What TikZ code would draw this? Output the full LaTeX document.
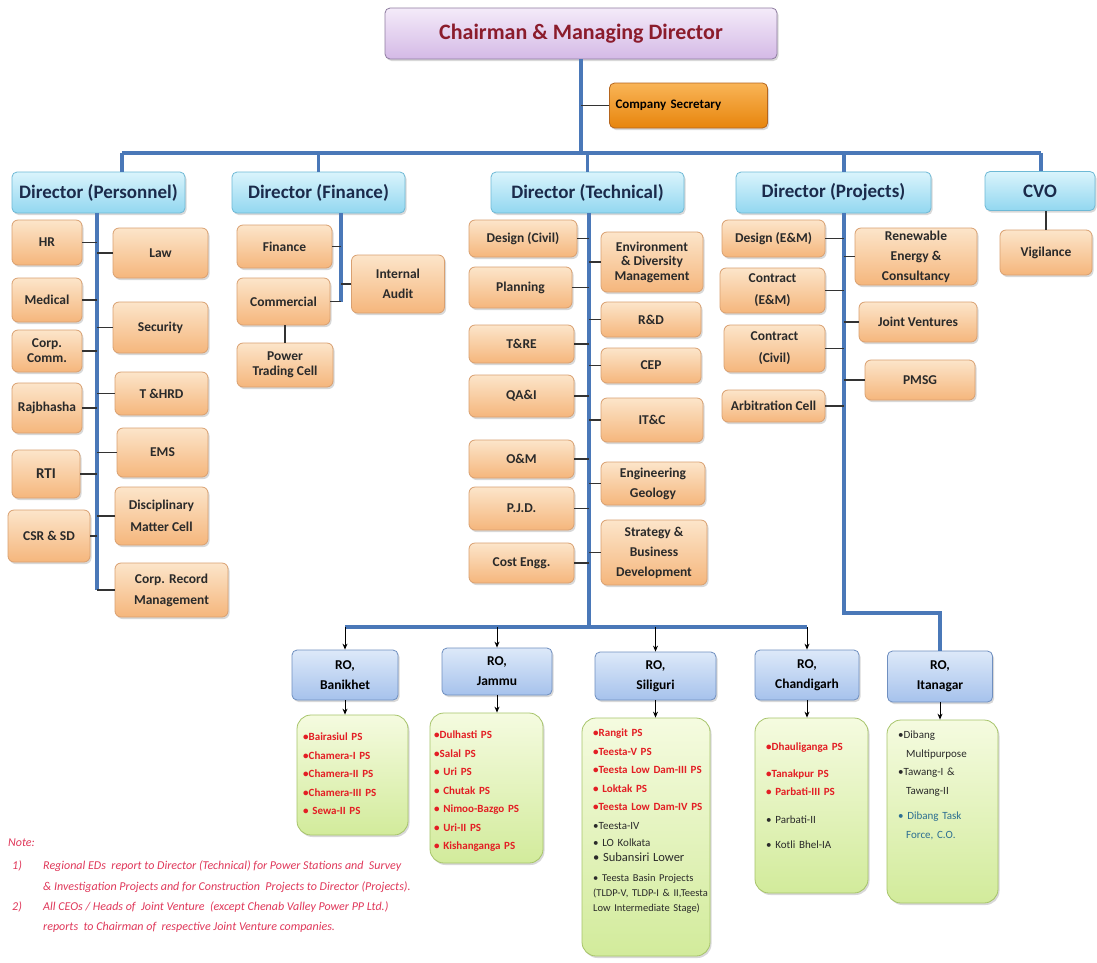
\documentclass[tikz,border=0pt]{standalone}
\usepackage{fontspec}
\setmainfont{Carlito}
\usetikzlibrary{arrows.meta,shadows}
\definecolor{cmdtop}{HTML}{F4EBF9}
\definecolor{cmdbot}{HTML}{D4B9E6}
\definecolor{cmdline}{HTML}{8E7CA0}
\definecolor{cmdtext}{HTML}{8B1C2C}
\definecolor{sectop}{HTML}{F9B457}
\definecolor{secbot}{HTML}{E7850C}
\definecolor{secline}{HTML}{B5651D}
\definecolor{dirtop}{HTML}{DAF4FC}
\definecolor{dirbot}{HTML}{92D7F0}
\definecolor{dirline}{HTML}{6EB9D6}
\definecolor{dirtext}{HTML}{1B2B4B}
\definecolor{unittop}{HTML}{FCE5CA}
\definecolor{unitbot}{HTML}{F5B67C}
\definecolor{unitline}{HTML}{D9A070}
\definecolor{rotop}{HTML}{DDE9F9}
\definecolor{robot}{HTML}{A6C2EC}
\definecolor{roline}{HTML}{6F8FC0}
\definecolor{gtop}{HTML}{F5FBE0}
\definecolor{gbot}{HTML}{D2EB9B}
\definecolor{gline}{HTML}{A7C46A}
\definecolor{busblue}{HTML}{4A78B8}
\definecolor{psred}{HTML}{E31E24}
\definecolor{notered}{HTML}{E0385A}
\definecolor{txtgray}{HTML}{2A2A2A}
\definecolor{dibteal}{HTML}{2C6E91}
\begin{document}
\begin{tikzpicture}[x=1pt,y=-1pt,
        box/.style={draw, line width=0.8pt, rounded corners=5pt, inner sep=2pt, align=center,
            drop shadow={shadow xshift=1.5pt, shadow yshift=-2pt, opacity=0.3}},
        boxsize/.style 2 args={minimum width=#1pt, minimum height=#2pt},
        cmdbox/.style={box, draw=cmdline, top color=cmdtop, bottom color=cmdbot, text=cmdtext,
            font=\bfseries\fontsize{22}{26}\selectfont},
        secbox/.style={box, draw=secline, top color=sectop, bottom color=secbot, text=black,
            text width=146pt, inner sep=6pt, minimum height=45pt, align=left,
            font=\bfseries\fontsize{13}{15}\selectfont},
        dirbox/.style={box, draw=dirline, top color=dirtop, bottom color=dirbot, text=dirtext,
            font=\bfseries\fontsize{19}{21}\selectfont},
        unit/.style={box, rounded corners=6pt, draw=unitline, top color=unittop, bottom color=unitbot,
            text=txtgray, font=\bfseries\fontsize{13.5}{16}\selectfont},
        lskip/.style={font=\bfseries\fontsize{13.5}{#1}\selectfont},
        robox/.style={box, draw=roline, top color=rotop, bottom color=robot, text=black,
            font=\bfseries\fontsize{13.5}{20}\selectfont},
        gbox/.style={box, rounded corners=14pt, draw=gline, top color=gtop, bottom color=gbot},
        gtext/.style={anchor=north west, inner sep=0pt, text width=150pt, align=left, text=psred,
            font=\bfseries\fontsize{11}{18.5}\selectfont},
        notetext/.style={anchor=west, inner sep=0pt, text=notered, font=\itshape\fontsize{12}{14}\selectfont},
        bus/.style={line width=3.2pt, draw=busblue},
        stub/.style={line width=1.3pt, draw=black!80},
        arr/.style={line width=1pt, -{Stealth[length=6pt,width=5pt]}}]
    \fill[white] (0,0) rectangle (1097,962);
    \useasboundingbox (0,0) rectangle (1097,962);

    \node[cmdbox, boxsize={392}{51}] (cmd) at (581,33.5) {Chairman \& Managing Director};
    \node[secbox] (csec) at (688.5,105.5) {Company Secretary};

    \node[dirbox, boxsize={173}{41}] (dpers) at (98.5,192.5) {Director (Personnel)};
    \node[dirbox, boxsize={173}{41}] (dfin) at (318.5,192.5) {Director (Finance)};
    \node[dirbox, boxsize={193}{41}] (dtech) at (587.5,192.5) {Director (Technical)};
    \node[dirbox, boxsize={195}{41}] (dproj) at (833.5,192.5) {Director (Projects)};
    \node[dirbox, boxsize={110}{39}] (dcvo) at (1040,191) {CVO};

    \node[unit, boxsize={70}{45}] (hr) at (47,242.5) {HR};
    \node[unit, boxsize={95}{50}] (law) at (160.5,253) {Law};
    \node[unit, boxsize={70}{44}] (medical) at (47,300) {Medical};
    \node[unit, boxsize={95}{51}] (security) at (160.5,327.5) {Security};
    \node[unit, boxsize={70}{42}, lskip=15] (corpcomm) at (47,351) {Corp.\\Comm.};
    \node[unit, boxsize={93}{43}] (thrd) at (161.5,393.5) {T \&HRD};
    \node[unit, boxsize={70}{50}] (rajbhasha) at (47,408) {Rajbhasha};
    \node[unit, boxsize={91}{49}] (ems) at (162.5,452.5) {EMS};
    \node[unit, boxsize={68}{48}, font=\bfseries\fontsize{15}{17}\selectfont] (rti) at (46,474) {RTI};
    \node[unit, boxsize={93}{58}, lskip=22] (discip) at (161.5,516) {Disciplinary\\Matter Cell};
    \node[unit, boxsize={82}{52}] (csr) at (49,536) {CSR \& SD};
    \node[unit, boxsize={113}{54}, lskip=21] (corprec) at (171.5,590) {Corp. Record\\Management};

    \node[unit, boxsize={95}{43}] (finance) at (284.5,246.5) {Finance};
    \node[unit, boxsize={93}{47}] (commercial) at (283.5,301.5) {Commercial};
    \node[unit, boxsize={93}{58}, lskip=20] (iaudit) at (398,284) {Internal\\Audit};
    \node[unit, boxsize={96}{44}, lskip=15] (ptc) at (285,365) {Power\\Trading Cell};

    \node[unit, boxsize={108}{37}] (dcivil) at (523,238.5) {Design (Civil)};
    \node[unit, boxsize={102}{60}, lskip=14.5] (envdiv) at (652,262) {Environment\\\& Diversity\\Management};
    \node[unit, boxsize={103}{41}] (planning) at (520.5,287.5) {Planning};
    \node[unit, boxsize={100}{35}] (rnd) at (651,319.5) {R\&D};
    \node[unit, boxsize={105}{38}] (tre) at (521.5,344) {T\&RE};
    \node[unit, boxsize={100}{35}] (cep) at (651,365.5) {CEP};
    \node[unit, boxsize={105}{42}] (qai) at (521.5,396) {QA\&I};
    \node[unit, boxsize={102}{44}] (itc) at (652,420) {IT\&C};
    \node[unit, boxsize={105}{38}] (onm) at (521.5,459) {O\&M};
    \node[unit, boxsize={104}{43}, lskip=20] (enggeo) at (653,483.5) {Engineering\\Geology};
    \node[unit, boxsize={105}{43}] (pjd) at (521.5,508.5) {P.J.D.};
    \node[unit, boxsize={106}{65}, lskip=20] (sbd) at (654,552.5) {Strategy \&\\Business\\Development};
    \node[unit, boxsize={105}{40}] (costengg) at (521.5,563) {Cost Engg.};

    \node[unit, boxsize={103}{37}] (dem) at (773.5,238.5) {Design (E\&M)};
    \node[unit, boxsize={122}{57}, lskip=20] (ren) at (916,256.5) {Renewable\\Energy \&\\Consultancy};
    \node[unit, boxsize={105}{45}, lskip=22] (cem) at (772.5,290.5) {Contract\\(E\&M)};
    \node[unit, boxsize={118}{40}] (jv) at (918,322) {Joint Ventures};
    \node[unit, boxsize={101}{47}, lskip=22] (ccivil) at (774.5,348.5) {Contract\\(Civil)};
    \node[unit, boxsize={110}{40}] (pmsg) at (920,380) {PMSG};
    \node[unit, boxsize={103}{32}] (arb) at (773.5,406) {Arbitration Cell};

    \node[unit, boxsize={92}{45}] (vig) at (1046,252.5) {Vigilance};

    \node[robox, boxsize={106}{50}] (ro1) at (345,675) {RO,\\Banikhet};
    \node[robox, boxsize={110}{47}] (ro2) at (497,671.5) {RO,\\Jammu};
    \node[robox, boxsize={121}{48}] (ro3) at (655.5,676) {RO,\\Siliguri};
    \node[robox, boxsize={104}{50}] (ro4) at (807,675) {RO,\\Chandigarh};
    \node[robox, boxsize={105}{51}] (ro5) at (940,676.5) {RO,\\Itanagar};

    \node[gbox, boxsize={111}{120}] (g1) at (352.5,775) {};
    \node[gbox, boxsize={113}{150}] (g2) at (486.5,788) {};
    \node[gbox, boxsize={128}{238}] (g3) at (646,837) {};
    \node[gbox, boxsize={113}{175}] (g4) at (811.5,805.5) {};
    \node[gbox, boxsize={111}{183}] (g5) at (942.5,811.5) {};

    \node[gtext] (g1t) at (303,733) {•Bairasiul PS\\•Chamera-I PS\\•Chamera-II PS\\•Chamera-III PS\\• Sewa-II PS};
    \node[gtext] (g2t) at (434,731) {•Dulhasti PS\\•Salal PS\\• Uri PS\\• Chutak PS\\• Nimoo-Bazgo PS\\• Uri-II PS\\• Kishanganga PS};
    \node[gtext] (g3t) at (593,729) {•Rangit PS\\•Teesta-V PS\\•Teesta Low Dam-III PS\\• Loktak PS\\•Teesta Low Dam-IV PS\\
        {\mdseries\color{txtgray}•Teesta-IV}\\[-1.5pt]
        {\mdseries\color{txtgray}• LO Kolkata}\\[-3.5pt]
        {\mdseries\color{txtgray}\fontsize{12.5}{18.5}\selectfont • Subansiri Lower}\\[1.5pt]
        {\mdseries\color{txtgray}\fontsize{10.5}{18.5}\selectfont • Teesta Basin Projects}\\[-3.5pt]
        {\mdseries\color{txtgray}\fontsize{10.5}{18.5}\selectfont (TLDP-V, TLDP-I \& II,Teesta}\\[-3.5pt]
        {\mdseries\color{txtgray}\fontsize{10.5}{18.5}\selectfont Low Intermediate Stage)}};
    \node[gtext] (g4t) at (766,743) {•Dhauliganga PS\\[8pt]•Tanakpur PS\\• Parbati-III PS\\[9pt]
        {\mdseries\color{txtgray}• Parbati-II}\\[7pt]
        {\mdseries\color{txtgray}• Kotli Bhel-IA}};
    \node[gtext, text=txtgray, font=\fontsize{11}{18.5}\selectfont] (g5t) at (898,731) {•Dibang\\\hspace*{8pt}Multipurpose\\•Tawang-I \&\\\hspace*{8pt}Tawang-II\\[7pt]
        {\color{dibteal}• Dibang Task}\\\hspace*{8pt}{\color{dibteal}Force, C.O.}};

    \node[notetext] (notehd) at (8,843) {Note:};
    \node[notetext] (n1num) at (12,866) {1)};
    \node[notetext] (n1a) at (43,866) {Regional EDs\ \ report to Director (Technical) for Power Stations and\ \ Survey};
    \node[notetext] (n1b) at (43,887) {\& Investigation Projects and for Construction\ \ Projects to Director (Projects).};
    \node[notetext] (n2num) at (12,907) {2)};
    \node[notetext] (n2a) at (43,907) {All CEOs / Heads of\ \ Joint Venture\ \ (except Chenab Valley Power PP Ltd.)};
    \node[notetext] (n2b) at (43,927) {reports\ \ to Chairman of\ \ respective Joint Venture companies.};

    \coordinate (busl) at (122,153);
    \coordinate (busr) at (1041,153);
    \coordinate (pspine) at (97,213);
    \coordinate (fspine) at (341,213);
    \coordinate (tspine) at (589,213);
    \coordinate (jspine) at (844,213);
    \coordinate (robus) at (589,627);
    \coordinate (jbend) at (844,613);

    \draw[bus] (busl) -- (busr);
    \draw[bus] (cmd) -- (cmd |- busl);
    \draw[bus] (busl) -- (busl |- dpers.north);
    \draw[bus] (dfin.north |- busl) -- (dfin.north);
    \draw[bus] (dtech.north |- busl) -- (dtech.north);
    \draw[bus] (jspine |- busl) -- (jspine |- dproj.north);
    \draw[bus] (busr) -- (busr |- dcvo.north);

    \draw[bus] (pspine) -- (pspine |- corprec);
    \draw[bus] (fspine) -- (fspine |- commercial);
    \draw[bus] (tspine) -- (robus);
    \draw[bus] (jspine) -- (jbend) -- (jbend -| ro5) -- (ro5);
    \draw[bus] (ro1.north |- robus) -- (ro4.north |- robus);

    \draw[stub] (csec) -- (csec -| cmd);
    \foreach \n in {hr,law,medical,security,corpcomm,thrd,rajbhasha,ems,rti,discip,csr,corprec}
        \draw[stub] (\n) -- (\n -| pspine);
    \foreach \n in {finance,commercial,iaudit}
        \draw[stub] (\n) -- (\n -| fspine);
    \foreach \n in {dcivil,envdiv,planning,rnd,tre,cep,qai,itc,onm,enggeo,pjd,sbd,costengg}
        \draw[stub] (\n) -- (\n -| tspine);
    \foreach \n in {dem,ren,cem,jv,ccivil,pmsg,arb}
        \draw[stub] (\n) -- (\n -| jspine);
    \draw[stub] (ptc.north) -- (ptc.north |- commercial.south);
    \draw[stub] (vig.north) -- (vig.north |- dcvo.south);

    \foreach \r in {ro1,ro2,ro3,ro4}
        \draw[arr] (\r.north |- robus) -- (\r.north);
    \foreach \r/\g in {ro1/g1,ro2/g2,ro3/g3,ro4/g4,ro5/g5}
        \draw[arr] (\r.south) -- (\r.south |- \g.north);
\end{tikzpicture}
\end{document}
